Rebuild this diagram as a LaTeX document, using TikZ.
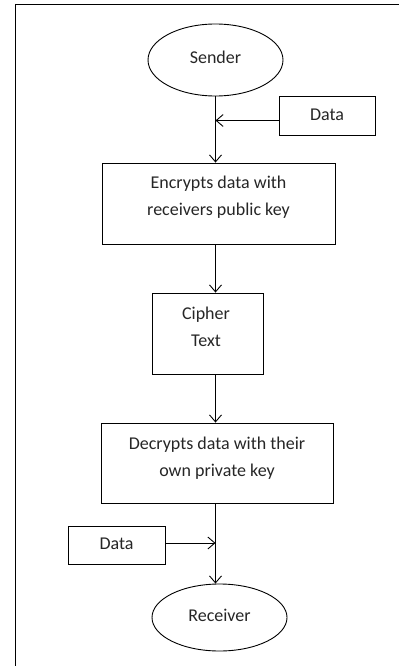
\documentclass[tikz,border=0pt]{standalone}
\usepackage{fontspec}
\setmainfont{Carlito}
\usetikzlibrary{arrows.meta,shapes.geometric}
\begin{document}
\begin{tikzpicture}[x=1pt,y=-1pt,
  line width=0.9pt,
  terminal/.style={draw, ellipse, inner sep=0pt},
  process/.style={draw, rectangle, inner sep=0pt},
  caption/.style={inner sep=0pt, align=center, text=black!85,
    font=\fontsize{18}{27}\selectfont},
  arr/.style={-{Straight Barb[length=7pt,width=12pt]}}]
  \useasboundingbox (0,0) rectangle (399,666);
  % open frame: top and left edges
  \draw (15,4) -- (399,4);
  \draw (15,4) -- (15,666);

  % shapes
  \node[terminal, minimum width=135pt, minimum height=72pt] (sender) at (215.5,60) {};
  \node[process, minimum width=96pt, minimum height=39pt] (data1) at (327,115.5) {};
  \node[process, minimum width=233pt, minimum height=81pt] (enc) at (218.5,203.5) {};
  \node[process, minimum width=111pt, minimum height=81pt] (cipher) at (207.5,333.5) {};
  \node[process, minimum width=232pt, minimum height=80pt] (dec) at (217,463) {};
  \node[process, minimum width=97pt, minimum height=38pt] (data2) at (116.5,545) {};
  \node[terminal, minimum width=135pt, minimum height=67pt] (receiver) at (219.5,617.5) {};

  % texts, set slightly above each shape's centre
  \node[caption] (sender-t) at ([yshift=3pt]sender.center) {Sender};
  \node[caption] (data1-t) at ([yshift=1pt]data1.center) {Data};
  \node[caption] (enc-t) at ([yshift=6pt]enc.center) {Encrypts data with\\receivers public key};
  \node[caption] (cipher-t) at ([xshift=-1.5pt,yshift=7pt]cipher.center) {Cipher\\Text};
  \node[caption] (dec-t) at ([yshift=5pt]dec.center) {Decrypts data with their\\own private key};
  \node[caption] (data2-t) at ([yshift=1pt]data2.center) {Data};
  \node[caption] (receiver-t) at ([yshift=2.5pt]receiver.center) {Receiver};

  % connectors
  \coordinate (d1) at ([yshift=-5pt]data1.west);
  \coordinate (d2) at ([yshift=2pt]data2.east);

  \draw[arr] (sender.south) -- (sender.south |- enc.north);
  \draw[arr] (d1) -- (d1 -| sender.south);
  \draw[arr] (enc.south -| sender.south) -- (cipher.north -| sender.south);
  \draw[arr] (cipher.south -| sender.south) -- (dec.north -| sender.south);
  \draw[arr] (d2) -- (d2 -| sender.south);
  \draw[arr] (dec.south -| sender.south) -- (receiver.north -| sender.south);
\end{tikzpicture}
\end{document}
